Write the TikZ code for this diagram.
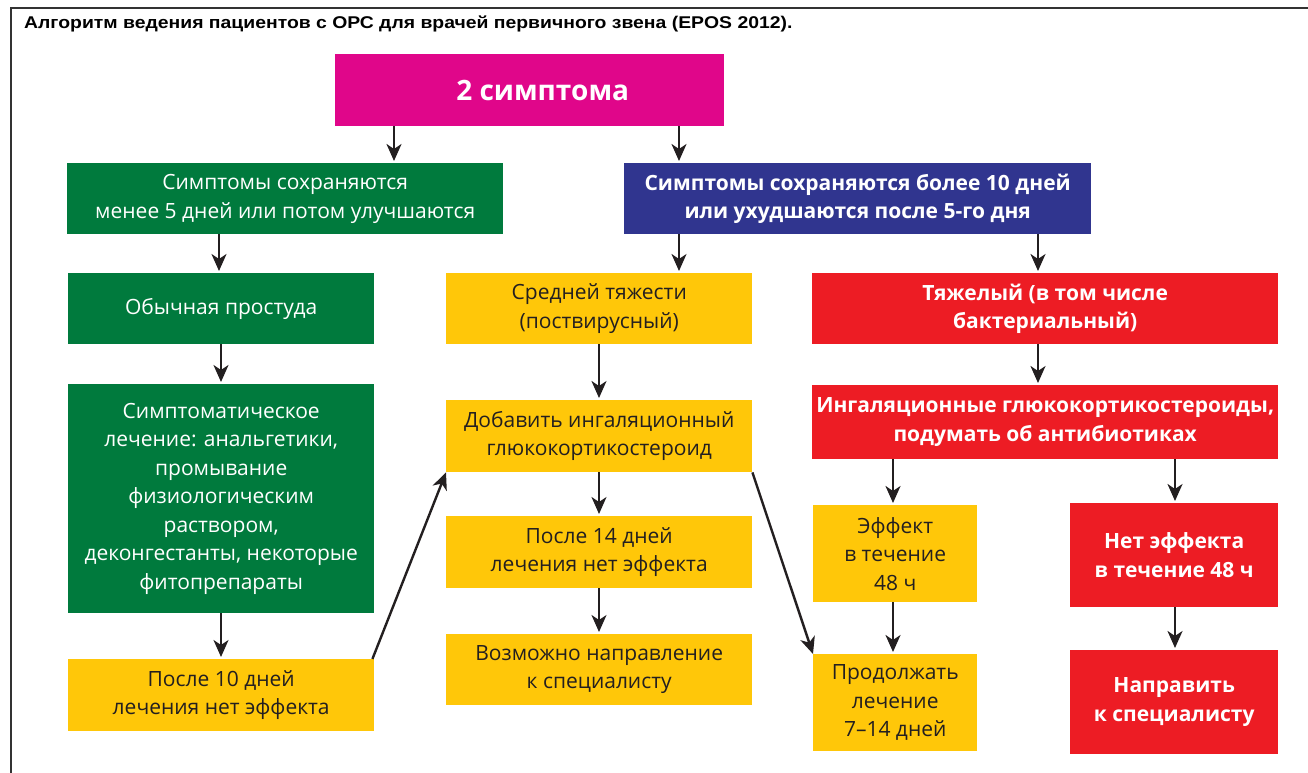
\documentclass[tikz,border=0pt]{standalone}
\usepackage{fontspec}
\setmainfont{Open Sans}
\newfontfamily\titlefont{Liberation Sans}
\usetikzlibrary{arrows.meta}
\definecolor{cmag}{HTML}{E0068A}
\definecolor{cgrn}{HTML}{007A3D}
\definecolor{cblu}{HTML}{30358F}
\definecolor{cyel}{HTML}{FFC709}
\definecolor{cred}{HTML}{ED1C24}
\definecolor{cdark}{HTML}{231F20}
\begin{document}
\begin{tikzpicture}[x=1pt,y=-1pt,
  box/.style={inner sep=0pt, align=center, anchor=north west, font=\fontsize{21}{28.5}\selectfont},
  gbox/.style={box, fill=cgrn, text=white},
  ybox/.style={box, fill=cyel, text=cdark},
  rbox/.style={box, fill=cred, text=white, font=\fontsize{21}{28.5}\selectfont\bfseries},
  arr/.style={draw=cdark, line width=2.4pt, -{Stealth[length=17pt,width=15pt,inset=5pt]}},
  frame/.style={draw=black!80, line width=1.8pt}
]
\useasboundingbox (0,0) rectangle (1308,773);
% frame
\coordinate (fTL) at (11,8);
\coordinate (fTR) at (1308,8);
\coordinate (fBL) at (11,773);
\draw[frame] (fTR) -- (fTL) -- (fBL);
% title
\node[anchor=base west, inner sep=0pt, font=\titlefont\bfseries\fontsize{17}{20}\selectfont] (title) at (24,29)
  {\scalebox{1.14}[1]{Алгоритм ведения пациентов с ОРС для врачей первичного звена (EPOS 2012).}};
% boxes
\node[box, fill=cmag, text=white, font=\fontsize{28}{32}\selectfont\bfseries, minimum width=389pt, minimum height=72pt] (mag) at (335,54) {\hspace*{26pt}2 симптома};
\node[gbox, minimum width=436pt, minimum height=71pt] (g1) at (67,163) {Симптомы сохраняются\\менее 5 дней или потом улучшаются};
\node[box, fill=cblu, text=white, font=\fontsize{21}{28.5}\selectfont\bfseries, minimum width=467pt, minimum height=71pt] (blu) at (624,163) {Симптомы сохраняются более 10 дней\\или ухудшаются после 5-го дня};
\node[gbox, minimum width=306pt, minimum height=71pt] (cold) at (68,273) {Обычная простуда};
\node[ybox, minimum width=306pt, minimum height=71pt] (mid) at (446,273) {Средней тяжести\\(поствирусный)};
\node[rbox, minimum width=466pt, minimum height=71pt] (sev) at (812,273) {Тяжелый (в том числе\\бактериальный)};
\node[gbox, minimum width=306pt, minimum height=229pt] (sym) at (68,384) {Симптоматическое\\лечение: анальгетики,\\промывание\\физиологическим\\раствором,\\деконгестанты, некоторые\\фитопрепараты};
\node[ybox, minimum width=306pt, minimum height=72pt] (add) at (446,400) {Добавить ингаляционный\\глюкокортикостероид};
\node[rbox, minimum width=466pt, minimum height=74pt] (igk) at (812,385) {Ингаляционные глюкокортикостероиды,\\подумать об антибиотиках};
\node[ybox, minimum width=306pt, minimum height=72pt] (d14) at (446,516) {После 14 дней\\лечения нет эффекта};
\node[ybox, minimum width=164pt, minimum height=97pt] (eff) at (813,505) {Эффект\\в течение\\48 ч};
\node[rbox, minimum width=208pt, minimum height=104pt] (noeff) at (1070,503) {Нет эффекта\\в течение 48 ч};
\node[ybox, minimum width=306pt, minimum height=71pt] (ref) at (446,634) {Возможно направление\\к специалисту};
\node[ybox, minimum width=164pt, minimum height=97pt] (cont) at (813,654) {Продолжать\\лечение\\7–14 дней};
\node[rbox, minimum width=208pt, minimum height=104pt] (dir) at (1070,650) {Направить\\к специалисту};
\node[ybox, minimum width=306pt, minimum height=72pt] (d10) at (68,659) {После 10 дней\\лечения нет эффекта};
% arrow columns
\coordinate (xa) at (394,0);
\coordinate (xb) at (679,0);
\coordinate (xc) at (219,0);
\coordinate (xd) at (1038,0);
\coordinate (xe) at (599,0);
\coordinate (xf) at (221,0);
\coordinate (xg) at (893,0);
\coordinate (xh) at (1175,0);
\draw[arr] (mag.south -| xa) -- ([yshift=2pt]g1.north -| xa);
\draw[arr] (mag.south -| xb) -- ([yshift=2pt]blu.north -| xb);
\draw[arr] (g1.south -| xc) -- ([yshift=2pt]cold.north -| xc);
\draw[arr] (blu.south -| xb) -- ([yshift=2pt]mid.north -| xb);
\draw[arr] (blu.south -| xd) -- ([yshift=2pt]sev.north -| xd);
\draw[arr] (cold.south -| xf) -- ([yshift=2pt]sym.north -| xf);
\draw[arr] (mid.south -| xe) -- ([yshift=2pt]add.north -| xe);
\draw[arr] (sev.south -| xd) -- ([yshift=2pt]igk.north -| xd);
\draw[arr] (sym.south -| xf) -- ([yshift=2pt]d10.north -| xf);
\draw[arr] (add.south -| xe) -- ([yshift=2pt]d14.north -| xe);
\draw[arr] (d14.south -| xe) -- ([yshift=2pt]ref.north -| xe);
\draw[arr] (igk.south -| xg) -- ([yshift=2pt]eff.north -| xg);
\draw[arr] (igk.south -| xh) -- ([yshift=2pt]noeff.north -| xh);
\draw[arr] (eff.south -| xg) -- ([yshift=2pt]cont.north -| xg);
\draw[arr] (noeff.south -| xh) -- ([yshift=2pt]dir.north -| xh);
\draw[arr] ([xshift=-2pt]d10.north east) -- (add.south west);
\draw[arr] (add.south east) -- (cont.north west);
\end{tikzpicture}
\end{document}
